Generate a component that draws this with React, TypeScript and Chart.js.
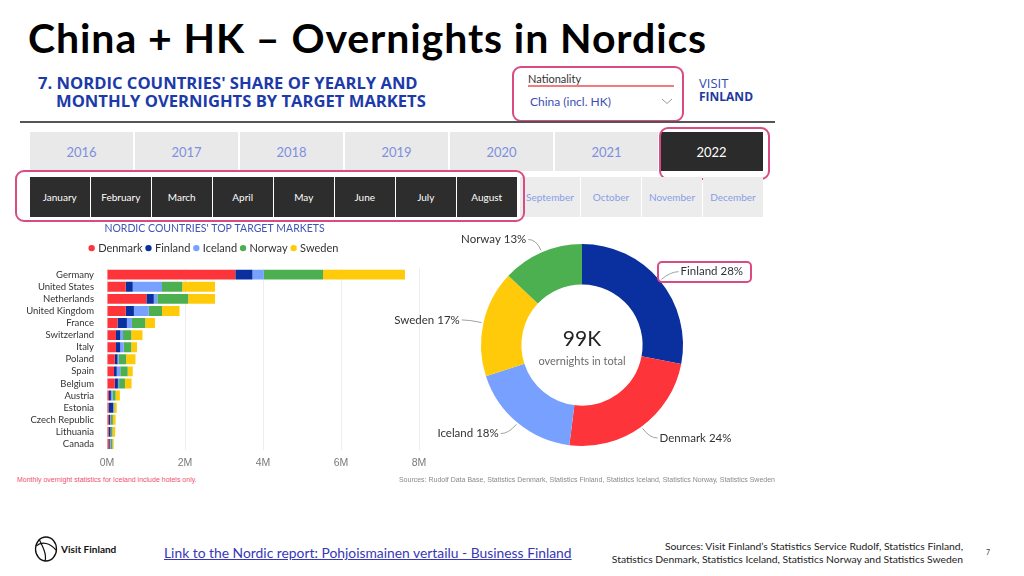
import React, { useEffect, useRef } from 'react';
import { Chart, registerables } from 'chart.js';

Chart.register(...registerables);

// ---------- Data ----------
const markets = [
  'Germany', 'United States', 'Netherlands', 'United Kingdom', 'France', 'Switzerland', 'Italy',
  'Poland', 'Spain', 'Belgium', 'Austria', 'Estonia', 'Czech Republic', 'Lithuania', 'Canada',
];
const denmark = [3.29, 0.48, 1.01, 0.48, 0.27, 0.23, 0.23, 0.2, 0.18, 0.2, 0.05, 0.04, 0.05, 0.04, 0.05];
const finland = [0.44, 0.18, 0.19, 0.21, 0.24, 0.11, 0.11, 0.07, 0.07, 0.08, 0.05, 0.12, 0.03, 0.05, 0.02];
const iceland = [0.29, 0.75, 0.09, 0.38, 0.13, 0.07, 0.09, 0.03, 0.09, 0.03, 0.04, 0.01, 0.02, 0.01, 0.03];
const norway = [1.52, 0.52, 0.79, 0.34, 0.34, 0.21, 0.19, 0.19, 0.19, 0.15, 0.08, 0.02, 0.05, 0.04, 0.04];
const sweden = [2.1, 0.84, 0.69, 0.45, 0.25, 0.29, 0.15, 0.24, 0.13, 0.17, 0.11, 0.06, 0.07, 0.07, 0.03];
const seriesNames = ['Denmark', 'Finland', 'Iceland', 'Norway', 'Sweden'];
const seriesValues = [denmark, finland, iceland, norway, sweden];
const seriesColors = ['#fd3439', '#0a2f9e', '#78a0ff', '#4caf50', '#ffca0a'];
const xMax = 8;
const xStep = 2;
const xUnit = 'M';

const donutLabels = ['Finland', 'Denmark', 'Iceland', 'Sweden', 'Norway'];
const donutShares = [28, 24, 18, 17, 13];
const donutColors = ['#0a2f9e', '#fd3439', '#78a0ff', '#ffca0a', '#4caf50'];
const totalLabel = '99K';
const totalCaption = 'overnights in total';

const years = ['2016', '2017', '2018', '2019', '2020', '2021', '2022'];
const activeYear = '2022';
const months = ['January', 'February', 'March', 'April', 'May', 'June', 'July', 'August', 'September', 'October', 'November', 'December'];
const activeMonths = 8;

const PINK = '#d94c82';
const UI = 'Lato, "Open Sans", sans-serif';

// ---------- Helpers ----------
type TProps = { x: number; cy: number; size: number; children: React.ReactNode; style?: React.CSSProperties; align?: 'left' | 'right' };
function T({ x, cy, size, children, style, align = 'left' }: TProps) {
  const h = Math.round(size * 1.6);
  const pos: React.CSSProperties = align === 'left' ? { left: x } : { right: 1024 - x };
  return (
    <div style={{ position: 'absolute', top: cy - h / 2, height: h, lineHeight: h + 'px', fontSize: size, whiteSpace: 'nowrap', ...pos, ...style }}>
      {children}
    </div>
  );
}

function PinkBox({ x, y, w, h, r = 9 }: { x: number; y: number; w: number; h: number; r?: number }) {
  return <div style={{ position: 'absolute', left: x, top: y, width: w, height: h, boxSizing: 'border-box', border: `2px solid ${PINK}`, borderRadius: r }} />;
}

// ---------- Bar chart ----------
function BarChart() {
  const ref = useRef<HTMLCanvasElement>(null);
  useEffect(() => {
    const legendSpacer = {
      id: 'legendSpacer',
      afterInit(chart: any) {
        const lg = chart.legend;
        if (!lg) return;
        const fit = lg.fit;
        lg.fit = function () {
          fit.call(lg);
          lg.height += 5;
        };
      },
    };
    const chart = new Chart(ref.current as HTMLCanvasElement, {
      type: 'bar',
      data: {
        labels: markets,
        datasets: seriesValues.map((d, i) => ({
          label: seriesNames[i],
          data: d,
          backgroundColor: seriesColors[i],
          borderWidth: 0,
          barPercentage: 0.82,
          categoryPercentage: 1,
        })),
      },
      options: {
        indexAxis: 'y',
        responsive: false,
        maintainAspectRatio: false,
        animation: false,
        layout: { padding: { left: 0, right: 15, top: 0, bottom: 0 } },
        scales: {
          x: {
            stacked: true,
            min: 0,
            max: xMax,
            ticks: {
              stepSize: xStep,
              callback: (v: any) => v + xUnit,
              color: '#7a7a7a',
              font: { family: '"Liberation Sans Narrow", "Liberation Sans", sans-serif', size: 10.5 },
              padding: 7,
              maxRotation: 0,
            },
            grid: { color: '#ededed', drawTicks: false },
            border: { display: false },
            afterFit: (s: any) => { s.height = 22; },
          },
          y: {
            stacked: true,
            ticks: { color: '#333', font: { family: UI, size: 9.5 }, padding: 5, autoSkip: false },
            grid: { display: false },
            border: { display: false },
            afterFit: (s: any) => { s.width = 97; },
          },
        },
        plugins: {
          title: {
            display: true,
            text: "NORDIC COUNTRIES' TOP TARGET MARKETS",
            color: '#3f56b5',
            font: { family: UI, size: 10.5, weight: 'normal' },
            padding: { top: 4, bottom: 3 },
          },
          legend: {
            display: true,
            position: 'top',
            labels: {
              usePointStyle: true,
              pointStyle: 'circle',
              boxWidth: 2,
              boxHeight: 4.5,
              padding: 5,
              color: '#333',
              font: { family: UI, size: 11 },
            },
          },
          tooltip: { enabled: false },
        },
      } as any,
      plugins: [legendSpacer],
    });
    return () => chart.destroy();
  }, []);
  return <canvas ref={ref} width={424} height={254} style={{ position: 'absolute', left: 10, top: 218, width: 424, height: 254 }} />;
}

// ---------- Donut chart ----------
function DonutChart() {
  const ref = useRef<HTMLCanvasElement>(null);
  useEffect(() => {
    const sliceLabels = {
      id: 'sliceLabels',
      afterDatasetsDraw(chart: any) {
        const ctx = chart.ctx as CanvasRenderingContext2D;
        const meta = chart.getDatasetMeta(0);
        ctx.save();
        meta.data.forEach((arc: any, i: number) => {
          const p = arc.getProps(['x', 'y', 'startAngle', 'endAngle', 'outerRadius'], true);
          const mid = (p.startAngle + p.endAngle) / 2;
          const c = Math.cos(mid);
          const s = Math.sin(mid);
          const ax = p.x + c * (p.outerRadius + 2);
          const ay = p.y + s * (p.outerRadius + 2);
          const ex = p.x + c * (p.outerRadius + 14);
          const ey = p.y + s * (p.outerRadius + 14);
          const right = c >= 0;
          const hx = ex + (right ? 8 : -8);
          ctx.strokeStyle = '#a0a0a0';
          ctx.lineWidth = 1;
          ctx.beginPath();
          ctx.moveTo(ax, ay);
          ctx.quadraticCurveTo(ex, ey, hx, ey);
          ctx.stroke();
          ctx.fillStyle = '#333';
          ctx.font = `11.5px ${UI}`;
          ctx.textBaseline = 'middle';
          ctx.textAlign = right ? 'left' : 'right';
          ctx.fillText(`${donutLabels[i]} ${donutShares[i]}%`, hx + (right ? 2 : -2), ey);
        });
        const a0 = meta.data[0];
        if (a0) {
          ctx.textAlign = 'center';
          ctx.textBaseline = 'middle';
          ctx.fillStyle = '#252423';
          ctx.font = `21px ${UI}`;
          ctx.fillText(totalLabel, a0.x, a0.y - 6);
          ctx.fillStyle = '#6b6b6b';
          ctx.font = `11px ${UI}`;
          ctx.fillText(totalCaption, a0.x, a0.y + 16);
        }
        ctx.restore();
      },
    };
    const chart = new Chart(ref.current as HTMLCanvasElement, {
      type: 'doughnut',
      data: {
        labels: donutLabels,
        datasets: [{ data: donutShares, backgroundColor: donutColors, borderWidth: 0 }],
      },
      options: {
        responsive: false,
        maintainAspectRatio: false,
        animation: false,
        cutout: '60%',
        layout: { padding: { left: 99, right: 99, top: 29, bottom: 29 } },
        plugins: { legend: { display: false }, tooltip: { enabled: false }, title: { display: false } },
      } as any,
      plugins: [sliceLabels],
    });
    return () => chart.destroy();
  }, []);
  return <canvas ref={ref} width={400} height={260} style={{ position: 'absolute', left: 382, top: 215, width: 400, height: 260 }} />;
}

// ---------- Slide ----------
export default function App() {
  return (
    <div style={{ position: 'fixed', left: 0, top: 0, width: 1024, height: 576, background: '#fff', overflow: 'hidden', fontFamily: UI }}>
      {/* Slide title */}
      <T x={28} cy={37.5} size={41} style={{ fontWeight: 700, color: '#000', fontFamily: 'Lato, sans-serif', letterSpacing: 0.9 }}>
        China + HK – Overnights in Nordics
      </T>

      {/* Report header */}
      <T x={38} cy={82} size={16.6} style={{ fontWeight: 700, color: '#1c3aa9', fontFamily: '"Open Sans", sans-serif' }}>
        7. NORDIC COUNTRIES' SHARE OF YEARLY AND
      </T>
      <T x={56} cy={100.5} size={16.6} style={{ fontWeight: 700, color: '#1c3aa9', fontFamily: '"Open Sans", sans-serif' }}>
        MONTHLY OVERNIGHTS BY TARGET MARKETS
      </T>

      {/* Nationality selector */}
      <T x={528} cy={79} size={11} style={{ color: '#333' }}>Nationality</T>
      <div style={{ position: 'absolute', left: 528, top: 85, width: 146, height: 1.5, background: '#f07c7c' }} />
      <T x={530} cy={101.5} size={12} style={{ color: '#3d4db7' }}>China (incl. HK)</T>
      <svg style={{ position: 'absolute', left: 661, top: 98 }} width={12} height={7}>
        <polyline points="1,1 6,5.5 11,1" fill="none" stroke="#9a9a9a" strokeWidth={1} />
      </svg>
      <PinkBox x={512} y={66} w={172} h={56} />

      <T x={699} cy={83.7} size={13} style={{ color: '#2b4ab4', fontFamily: '"Open Sans", sans-serif' }}>VISIT</T>
      <T x={699} cy={96.8} size={12} style={{ color: '#1e3a9f', fontWeight: 700, fontFamily: '"Open Sans", sans-serif' }}>FINLAND</T>

      {/* Divider */}
      <div style={{ position: 'absolute', left: 20, top: 121, width: 755, height: 2, background: '#555' }} />

      {/* Year tabs */}
      {years.map((y, i) => {
        const active = y === activeYear;
        return (
          <div key={y} style={{ position: 'absolute', left: 30 + i * 105, top: 132, width: 103, height: 39, background: active ? '#2b2b2b' : '#e9e9e9', color: active ? '#fff' : '#7d90e0', fontSize: 13, display: 'flex', alignItems: 'center', justifyContent: 'center' }}>
            {y}
          </div>
        );
      })}
      <PinkBox x={659} y={127} w={111} h={53} />

      {/* Month tabs */}
      {months.map((m, i) => {
        const active = i < activeMonths;
        const left = active ? 30 + i * 61 : 520 + (i - activeMonths) * 61;
        return (
          <div key={m} style={{ position: 'absolute', left, top: 177, width: active ? 59.5 : 60, height: 40, background: active ? '#2d2d2d' : '#ececec', color: active ? '#fff' : '#8a9de6', fontSize: 10, display: 'flex', alignItems: 'center', justifyContent: 'center' }}>
            {m}
          </div>
        );
      })}
      <PinkBox x={15} y={170} w={510} h={52} />

      <BarChart />
      <DonutChart />
      <PinkBox x={657} y={261} w={95} h={22} r={5} />

      {/* Notes */}
      <T x={17} cy={479} size={7} style={{ color: '#f0506e', fontFamily: '"Liberation Sans Narrow", "Liberation Sans", sans-serif' }}>
        Monthly overnight statistics for Iceland include hotels only.
      </T>
      <T x={775} cy={479} size={7} align="right" style={{ color: '#8a8a8a', fontFamily: '"Liberation Sans Narrow", "Liberation Sans", sans-serif' }}>
        Sources: Rudolf Data Base, Statistics Denmark, Statistics Finland, Statistics Iceland, Statistics Norway, Statistics Sweden
      </T>

      {/* Footer logo */}
      <svg style={{ position: 'absolute', left: 33, top: 535 }} width={26} height={28} viewBox="0 0 26 28">
        <ellipse cx="13" cy="14" rx="10.5" ry="12" fill="none" stroke="#111" strokeWidth={1.3} />
        <path d="M3 11 C 9 6, 17 8, 23 15" fill="none" stroke="#111" strokeWidth={1.2} />
        <path d="M6 4 C 10 12, 14 20, 12 26" fill="none" stroke="#111" strokeWidth={1.2} />
      </svg>
      <T x={61} cy={549} size={10} style={{ color: '#111', fontWeight: 700 }}>Visit Finland</T>

      {/* Link */}
      <T x={164} cy={553} size={13.85} style={{ color: '#3737b8', textDecoration: 'underline' }}>
        Link to the Nordic report: Pohjoismainen vertailu - Business Finland
      </T>

      {/* Sources */}
      <T x={963} cy={546} size={10.35} align="right" style={{ color: '#222' }}>
        Sources: Visit Finland’s Statistics Service Rudolf, Statistics Finland,
      </T>
      <T x={963} cy={559.5} size={10.35} align="right" style={{ color: '#222' }}>
        Statistics Denmark, Statistics Iceland, Statistics Norway and Statistics Sweden
      </T>
      <T x={986} cy={552} size={7} style={{ color: '#444' }}>7</T>
    </div>
  );
}
